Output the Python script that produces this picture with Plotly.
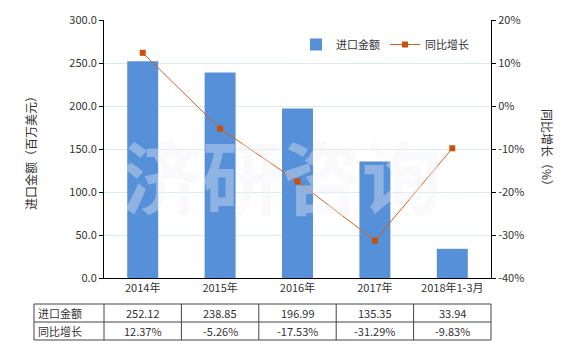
import plotly.graph_objects as go

categories = ["2014年", "2015年", "2016年", "2017年", "2018年1-3月"]
import_values = [252.12, 238.85, 196.99, 135.35, 33.94]
growth_pct = [12.37, -5.26, -17.53, -31.29, -9.83]
bar_name = "进口金额"
line_name = "同比增长"
left_ticks = [0, 50, 100, 150, 200, 250, 300]
right_ticks = [-40, -30, -20, -10, 0, 10, 20]

W, H = 580, 350
FONT = "Noto Sans CJK SC"
px_x = lambda p: p / W
px_y = lambda p: 1 - p / H

fig = go.Figure()
fig.add_trace(go.Bar(x=categories, y=import_values, name=bar_name,
                     marker=dict(color="#5690d8", line=dict(width=0)),
                     width=0.4, yaxis="y"))
fig.add_trace(go.Scatter(x=categories, y=growth_pct, name=line_name, yaxis="y2",
                         mode="lines+markers",
                         line=dict(color="#d4601c", width=1),
                         marker=dict(symbol="square", size=6, color="#c8500a")))

x0, x1 = 104, 491
ytop, ybot = 20, 278
fig.update_layout(
    width=W, height=H, margin=dict(l=0, r=0, t=0, b=0, pad=0, autoexpand=False),
    paper_bgcolor="white", plot_bgcolor="white",
    font=dict(family=FONT, size=11, color="#333333"),
    showlegend=True,
    legend=dict(orientation="h", x=px_x(296), y=px_y(30), xanchor="left", yanchor="top",
                font=dict(size=11, color="#333"), bgcolor="rgba(0,0,0,0)",
                itemwidth=30, tracegroupgap=0),
    xaxis=dict(domain=[px_x(x0), px_x(x1)], showline=True, linecolor="black", linewidth=1,
               ticks="", showgrid=False, tickfont=dict(size=11, color="#333"),
               anchor="y", automargin=False),
    yaxis=dict(domain=[px_y(ybot), px_y(ytop)], range=[0, 300], tickvals=left_ticks,
               ticktext=[f"{v:.1f}" for v in left_ticks],
               showline=True, linecolor="black", linewidth=1, ticks="outside", ticklen=4,
               tickcolor="black", showgrid=True, gridcolor="#dcecec", gridwidth=1,
               zeroline=False, tickfont=dict(size=11, color="#333"), automargin=False),
    yaxis2=dict(overlaying="y", side="right", anchor="x", range=[-40, 20], tickvals=right_ticks,
                ticktext=[f"{v}%" for v in right_ticks],
                showline=True, linecolor="black", linewidth=1, ticks="outside", ticklen=4,
                tickcolor="black", showgrid=False, zeroline=False,
                tickfont=dict(size=11, color="#333"), automargin=False),
)

ann = []
# axis titles
ann.append(dict(text="进口金额（百万美元）", x=px_x(30), y=px_y(150), xref="paper", yref="paper",
                xanchor="center", yanchor="middle",
                textangle=-90, showarrow=False, font=dict(size=12, color="#333")))
ann.append(dict(text="同比增长（%）", x=px_x(548), y=px_y(150), xref="paper", yref="paper",
                xanchor="center", yanchor="middle",
                textangle=90, showarrow=False, font=dict(size=12, color="#333")))
# watermark
ann.append(dict(text="济研咨询", x=px_x(282), y=px_y(173), xref="paper", yref="paper",
                xanchor="center", yanchor="middle", showarrow=False,
                font=dict(size=80, color="rgba(240,240,246,0.36)", family=FONT, weight=700)))

# table
r1, r2, r3 = 304, 322, 340
shapes = []
for yy in (r1, r2, r3):
    shapes.append(dict(type="line", xref="paper", yref="paper", x0=px_x(34), x1=px_x(x1),
                       y0=px_y(yy), y1=px_y(yy), line=dict(color="#444", width=1)))
step = (x1 - x0) / len(categories)
for i in range(len(categories) + 2):
    xx = 34 if i == 0 else x0 + (i - 1) * step
    shapes.append(dict(type="line", xref="paper", yref="paper", x0=px_x(xx), x1=px_x(xx),
                       y0=px_y(r1), y1=px_y(r3), line=dict(color="#444", width=1)))
ann.append(dict(text=bar_name, x=px_x(36), y=px_y((r1 + r2) / 2), xref="paper", yref="paper",
                xanchor="left", yanchor="middle", showarrow=False, font=dict(size=11, color="#333")))
ann.append(dict(text=line_name, x=px_x(36), y=px_y((r2 + r3) / 2), xref="paper", yref="paper",
                xanchor="left", yanchor="middle", showarrow=False, font=dict(size=11, color="#333")))
for c, v, g in zip(categories, import_values, growth_pct):
    ann.append(dict(text=f"{v:.2f}", x=c, y=px_y((r1 + r2) / 2), xref="x", yref="paper",
                    xanchor="center", yanchor="middle",
                    showarrow=False, font=dict(size=11, color="#333")))
    ann.append(dict(text=f"{g:.2f}%", x=c, y=px_y((r2 + r3) / 2), xref="x", yref="paper",
                    xanchor="center", yanchor="middle",
                    showarrow=False, font=dict(size=11, color="#333")))

fig.update_layout(annotations=ann, shapes=shapes)
fig.write_html("out.html")
